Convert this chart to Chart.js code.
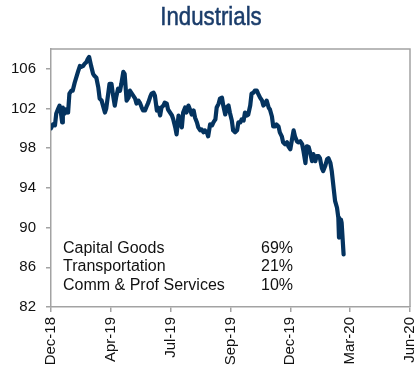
<!DOCTYPE html>
<html>
<head>
<meta charset="utf-8">
<script src="https://cdn.jsdelivr.net/npm/chart.js@4/dist/chart.umd.min.js"></script>
<style>
  html, body { margin: 0; padding: 0; background: #fff; }
  canvas { display: block; }
</style>
</head>
<body>
<canvas id="lineChart" width="417" height="374"></canvas>
<script>
// --- Index level, days since 31-Dec-2018 ---
const days = [
    0, 3, 6, 8, 11, 13, 15, 17, 18, 21, 23, 26, 28, 31, 33, 36, 41, 44, 46, 49,
    51, 54, 56, 58, 61, 64, 66, 69, 72, 74, 77, 79, 82, 84, 87, 89, 92, 94, 97, 99,
    102, 105, 107, 110, 112, 115, 118, 120, 123, 125, 128, 130, 133, 135, 138, 140, 143, 146, 148, 151,
    153, 156, 158, 161, 163, 166, 168, 171, 173, 176, 178, 181, 184, 186, 189, 191, 194, 196, 199, 201,
    204, 206, 209, 212, 214, 217, 219, 222, 224, 227, 229, 232, 234, 237, 239, 242, 245, 247, 250, 252,
    255, 257, 260, 262, 265, 267, 270, 272, 275, 277, 280, 283, 285, 288, 290, 293, 295, 298, 300, 303,
    305, 308, 310, 313, 315, 318, 321, 323, 326, 328, 331, 333, 336, 338, 341, 343, 346, 348, 351, 353,
    356, 359, 361, 364, 366, 369, 371, 374, 376, 379, 382, 384, 387, 389, 392, 394, 397, 399, 402, 404,
    407, 409, 412, 414, 417, 420, 422, 425, 427, 430, 432, 435, 437, 438, 441, 442, 445
];
const index = [
    100.0, 100.4, 100.3, 101.5, 102.0, 102.3, 101.6, 100.6, 102.1, 101.5, 101.9, 101.6, 103.5, 103.8, 103.8, 104.6, 105.7, 106.3, 106.2, 106.3,
    106.5, 106.7, 107.0, 107.2, 106.3, 105.5, 105.3, 105.1, 104.1, 103.0, 102.8, 102.3, 101.6, 102.0, 103.5, 104.5, 104.5, 103.5, 102.3, 103.1,
    104.0, 103.8, 104.5, 105.7, 105.5, 102.8, 103.1, 103.8, 103.5, 103.3, 103.0, 102.5, 102.8, 102.6, 102.1, 101.8, 101.8, 102.3, 102.6, 103.2,
    103.5, 103.6, 103.3, 101.8, 102.1, 101.3, 102.1, 102.3, 102.6, 102.5, 101.9, 101.6, 101.3, 100.9, 100.1, 99.4, 101.3, 100.6, 100.1, 101.6,
    102.1, 101.6, 102.3, 101.8, 101.4, 101.8, 101.1, 100.6, 100.1, 99.8, 99.9, 99.6, 99.8, 99.6, 99.2, 100.4, 100.3, 100.6, 100.9, 102.1,
    102.5, 103.0, 103.1, 102.3, 101.4, 102.1, 102.3, 101.6, 100.8, 99.8, 99.6, 99.8, 100.6, 100.6, 100.9, 100.8, 101.6, 101.3, 101.4, 102.3,
    103.5, 103.6, 103.8, 103.8, 103.5, 103.1, 102.8, 102.3, 102.5, 102.8, 102.1, 101.9, 101.2, 100.2, 100.2, 100.4, 100.2, 99.6, 99.2, 98.6,
    98.4, 98.6, 98.2, 97.9, 98.7, 99.8, 99.2, 98.7, 98.6, 98.7, 98.4, 97.7, 96.5, 98.2, 98.1, 97.6, 96.7, 97.4, 96.7, 97.2,
    97.2, 97.0, 96.0, 95.7, 96.2, 96.9, 97.0, 96.5, 95.7, 93.9, 92.7, 92.0, 91.0, 89.0, 90.8, 90.5, 87.3
];

const xTickDays = [0, 91, 182, 273, 364, 455, 546];
const xTickLabels = ['Dec-18', 'Apr-19', 'Jul-19', 'Sep-19', 'Dec-19', 'Mar-20', 'Jun-20'];
const yTicks = [82, 86, 90, 94, 98, 102, 106];

// sub-industry weights shown inside the plot
const groups = ['Capital Goods', 'Transportation', 'Comm & Prof Services'];
const weights = ['69%', '21%', '10%'];

const chartTitle = 'Industrials';
const axisGray = '#a3a3a3';
const navy = '#04335f';

// condensed title above the plot
const titleText = {
    id: 'titleText',
    afterDraw(chart) {
        const c = chart.ctx;
        c.save();
        c.translate(211, 25);
        c.scale(0.89, 1);
        c.font = '25px "Liberation Sans", Arial, sans-serif';
        c.fillStyle = '#1a3c6a';
        c.strokeStyle = '#1a3c6a';
        c.lineWidth = 0.5;
        c.textAlign = 'center';
        c.textBaseline = 'alphabetic';
        c.fillText(chartTitle, 0, 0);
        c.strokeText(chartTitle, 0, 0);
        c.restore();
    }
};

// grey frame on top and right of the plot
const frame = {
    id: 'frame',
    afterDraw(chart) {
        const a = chart.chartArea;
        const c = chart.ctx;
        c.save();
        c.strokeStyle = axisGray;
        c.lineWidth = 1.5;
        c.beginPath();
        c.moveTo(a.left, a.top);
        c.lineTo(a.right, a.top);
        c.lineTo(a.right, a.bottom);
        c.stroke();
        c.restore();
    }
};

// weights table in the lower-left of the plot
const weightTable = {
    id: 'weightTable',
    afterDatasetsDraw(chart) {
        const a = chart.chartArea;
        const c = chart.ctx;
        c.save();
        c.font = '16px "Liberation Sans", Arial, sans-serif';
        c.fillStyle = '#111';
        c.textBaseline = 'alphabetic';
        groups.forEach((g, i) => {
            const y = a.bottom - 54.5 + i * 18.8;
            c.textAlign = 'left';
            c.fillText(g, a.left + 12, y);
            c.textAlign = 'right';
            c.fillText(weights[i], a.left + 242, y);
        });
        c.restore();
    }
};

const ctx = document.getElementById('lineChart').getContext('2d');
new Chart(ctx, {
    type: 'line',
    data: {
        datasets: [{
            label: chartTitle,
            data: days.map((d, i) => ({ x: d, y: index[i] })),
            borderColor: navy,
            borderWidth: 4.2,
            pointRadius: 0,
            tension: 0,
            borderJoinStyle: 'round',
            borderCapStyle: 'round'
        }]
    },
    options: {
        responsive: false,
        animation: false,
        layout: { padding: { left: 0, right: 7, top: 49, bottom: 0 } },
        plugins: {
            legend: { display: false },
            tooltip: { enabled: false },
            title: { display: false }
        },
        scales: {
            x: {
                type: 'linear',
                min: 0,
                max: 546,
                afterBuildTicks: s => { s.ticks = xTickDays.map(v => ({ value: v })); },
                afterFit: s => { s.height = 67; s.paddingLeft = 0; s.paddingRight = 0; },
                grid: { drawOnChartArea: false, drawTicks: true, tickLength: 5, color: axisGray, lineWidth: 1.5 },
                border: { color: axisGray, width: 1.5 },
                ticks: {
                    minRotation: 90,
                    maxRotation: 90,
                    padding: 5,
                    color: '#111',
                    font: { family: '"Liberation Sans", Arial, sans-serif', size: 15 },
                    callback: (v, i) => xTickLabels[i]
                }
            },
            y: {
                min: 82,
                max: 108,
                afterBuildTicks: s => { s.ticks = yTicks.map(v => ({ value: v })); },
                afterFit: s => { s.width = 51; s.paddingTop = 0; s.paddingBottom = 0; },
                grid: { drawOnChartArea: false, drawTicks: true, tickLength: 5, color: axisGray, lineWidth: 1.5 },
                border: { color: axisGray, width: 1.5 },
                ticks: {
                    padding: 10,
                    color: '#111',
                    font: { family: '"Liberation Sans", Arial, sans-serif', size: 15 }
                }
            }
        }
    },
    plugins: [frame, weightTable, titleText]
});
</script>
</body>
</html>
